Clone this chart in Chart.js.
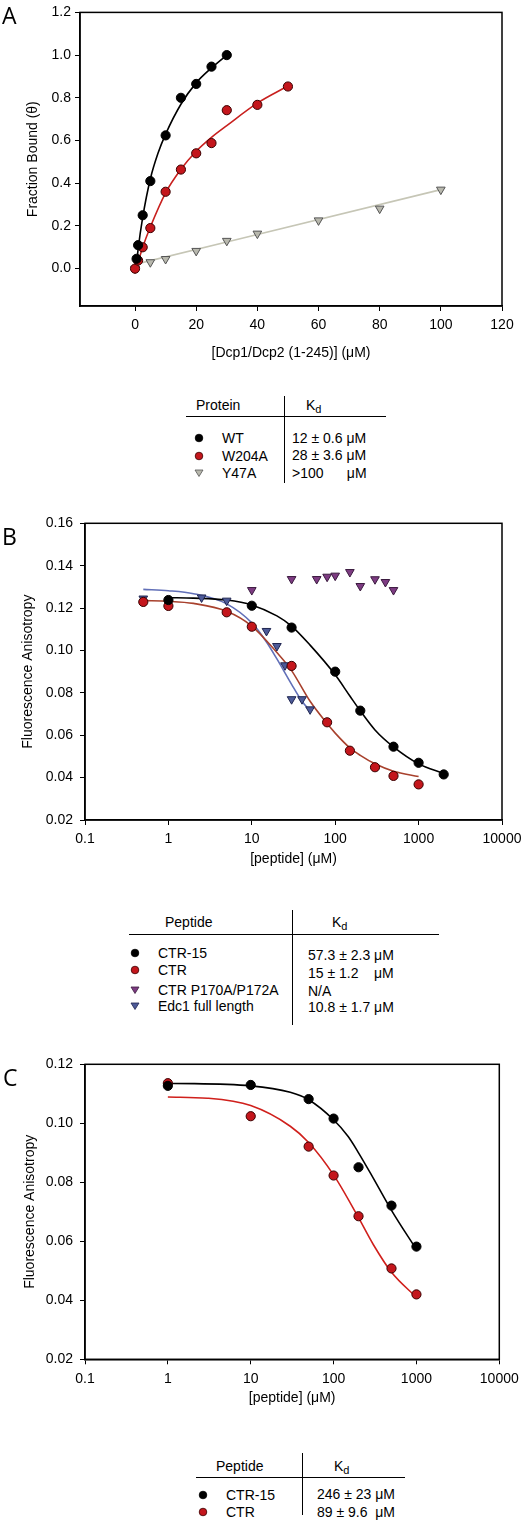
<!DOCTYPE html>
<html>
<head>
<meta charset="utf-8">
<script src="https://cdn.jsdelivr.net/npm/chart.js@4.4.0/dist/chart.umd.min.js"></script>
<style>
  html, body { margin: 0; padding: 0; background: #fff; }
  #page { position: relative; width: 531px; height: 1523px; overflow: hidden;
          font-family: "Liberation Sans", Arial, sans-serif; color: #000; }
  #page canvas { position: absolute; left: 0; }
  .t { position: absolute; height: 16px; line-height: 16px; font-size: 14px; white-space: pre; }
  .t sub { font-size: 11px; vertical-align: -3px; line-height: 0; }
  .hl { position: absolute; height: 0; border-top: 1.5px solid #000; }
  .vl { position: absolute; width: 0; border-left: 1.5px solid #000; }
  .letter { position: absolute; font-family: "Open Sans", sans-serif; font-size: 23px; line-height: 24px; }
  .mk { position: absolute; }
</style>
</head>
<body>
<div id="page">
  <canvas id="chartA" width="531" height="372" style="top:0px"></canvas>
  <canvas id="chartB" width="531" height="380" style="top:500px"></canvas>
  <canvas id="chartC" width="531" height="380" style="top:1040px"></canvas>
</div>
<script>
// ---------------------------------------------------------------
// Panel A: fraction bound vs [Dcp1/Dcp2 (1-245)]
// ---------------------------------------------------------------
const A_XTICKS = [0, 20, 40, 60, 80, 100, 120];
const A_YTICKS = [0, 0.2, 0.4, 0.6, 0.8, 1.0, 1.2];

const A_WT_X = [0.5, 1, 2.5, 5, 10, 15, 20, 25, 30];
const A_WT_Y = [0.046, 0.11, 0.25, 0.41, 0.624, 0.80, 0.865, 0.946, 1.0];
const A_W204A_X = [0, 1, 2.5, 5, 10, 15, 20, 25, 30, 40, 50];
const A_W204A_Y = [0, 0.038, 0.10, 0.19, 0.36, 0.464, 0.54, 0.588, 0.742, 0.767, 0.853];
const A_Y47A_X = [0, 5, 10, 20, 30, 40, 60, 80, 100];
const A_Y47A_Y = [0, 0.03, 0.045, 0.083, 0.13, 0.164, 0.226, 0.281, 0.37];

// fitted curves
const A_FIT_WT_X = [0.5, 1, 2.5, 5, 7.5, 10, 15, 20, 25, 30];
const A_FIT_WT_Y = [0.02, 0.09, 0.24, 0.42, 0.54, 0.63, 0.77, 0.87, 0.94, 1.0];
const A_FIT_W204A_X = [1, 2.5, 5, 10, 15, 20, 25, 30, 40, 50];
const A_FIT_W204A_Y = [0.03, 0.10, 0.195, 0.355, 0.465, 0.55, 0.615, 0.67, 0.775, 0.855];
const A_FIT_Y47A_X = [0, 100];
const A_FIT_Y47A_Y = [0.02, 0.37];

// ---------------------------------------------------------------
// Panel B: anisotropy vs [peptide]
// ---------------------------------------------------------------
const LOG_XTICKS = [0.1, 1, 10, 100, 1000, 10000];
const B_YTICKS = [0.02, 0.04, 0.06, 0.08, 0.10, 0.12, 0.14, 0.16];

const B_CTR15_X = [1, 10, 30, 100, 200, 500, 1000, 2000];
const B_CTR15_Y = [0.1238, 0.1211, 0.1108, 0.090, 0.0716, 0.0546, 0.047, 0.0415];
const B_CTR_X = [0.5, 1, 5, 10, 30, 80, 150, 300, 500, 1000];
const B_CTR_Y = [0.1229, 0.121, 0.118, 0.1112, 0.0927, 0.0661, 0.0527, 0.0449, 0.0408, 0.0368];
const B_PMUT_X = [10, 30, 60, 80, 100, 150, 200, 300, 400, 500];
const B_PMUT_Y = [0.1285, 0.1337, 0.1337, 0.1348, 0.1353, 0.137, 0.1304, 0.1336, 0.1323, 0.1285];
const B_EDC1_X = [0.5, 2.5, 5, 15, 20, 25, 30, 40, 50];
const B_EDC1_Y = [0.1245, 0.125, 0.1235, 0.1092, 0.1021, 0.093, 0.077, 0.077, 0.0722];

const B_FIT_CTR15_X = [1, 2, 5, 10, 20, 30, 50, 100, 150, 200, 300, 500, 1000, 2000];
const B_FIT_CTR15_Y = [0.1249, 0.1247, 0.1238, 0.1215, 0.1163, 0.1115, 0.1025, 0.0885, 0.0785, 0.0715, 0.0625, 0.0545, 0.0465, 0.042];
const B_FIT_CTR_X = [0.5, 1, 2, 5, 10, 20, 30, 50, 80, 100, 150, 200, 300, 500, 1000];
const B_FIT_CTR_Y = [0.1235, 0.1232, 0.1222, 0.1185, 0.1115, 0.099, 0.0905, 0.076, 0.0655, 0.061, 0.054, 0.0505, 0.0465, 0.043, 0.0405];
const B_FIT_EDC1_X = [0.5, 1, 2, 5, 10, 15, 20, 30, 40, 50];
const B_FIT_EDC1_Y = [0.1288, 0.1282, 0.1268, 0.122, 0.113, 0.104, 0.096, 0.084, 0.076, 0.0715];

// ---------------------------------------------------------------
// Panel C: anisotropy vs [peptide]
// ---------------------------------------------------------------
const C_YTICKS = [0.02, 0.04, 0.06, 0.08, 0.10, 0.12];

const C_CTR15_X = [1, 10, 50, 100, 200, 500, 1000];
const C_CTR15_Y = [0.1127, 0.113, 0.1082, 0.1016, 0.0851, 0.0721, 0.0582];
const C_CTR_X = [1, 10, 50, 100, 200, 500, 1000];
const C_CTR_Y = [0.1136, 0.1024, 0.0921, 0.0823, 0.0685, 0.0508, 0.042];

const C_FIT_CTR15_X = [1, 10, 30, 50, 100, 150, 200, 300, 500, 1000];
const C_FIT_CTR15_Y = [0.1136, 0.1127, 0.1105, 0.108, 0.1012, 0.0955, 0.090, 0.0815, 0.0705, 0.0572];
const C_FIT_CTR_X = [1, 3, 10, 30, 50, 100, 200, 300, 500, 1000];
const C_FIT_CTR_Y = [0.1089, 0.1085, 0.106, 0.099, 0.0935, 0.0825, 0.068, 0.059, 0.0495, 0.041];

// legend tables
const A_NAMES = ['WT', 'W204A', 'Y47A'];
const A_KD = ['12 \u00b1 0.6 \u03bcM', '28 \u00b1 3.6 \u03bcM', '>100      \u03bcM'];
const B_NAMES = ['CTR-15', 'CTR', 'CTR P170A/P172A', 'Edc1 full length'];
const B_KD = ['57.3 \u00b1 2.3 \u03bcM', '15 \u00b1 1.2    \u03bcM', 'N/A', '10.8 \u00b1 1.7 \u03bcM'];
const C_NAMES = ['CTR-15', 'CTR'];
const C_KD = ['246 \u00b1 23 \u03bcM', '89 \u00b1 9.6  \u03bcM'];

// ---------------------------------------------------------------
const FONT = "'Liberation Sans', Arial, sans-serif";
const BLACK = { fill: '#000000', edge: '#000000' };
const RED = { fill: '#c4161c', edge: '#3a0000' };
const GRAY = { fill: '#b8b8ad', edge: '#555555' };
const PURPLE = { fill: '#7d3b82', edge: '#3a1a3e' };
const BLUE = { fill: '#4d5a98', edge: '#1f2550' };

const zip = (xs, ys) => xs.map((x, i) => ({ x, y: ys[i] }));

function points(xs, ys, col, style) {
  const tri = style === 'tri';
  return {
    data: zip(xs, ys), showLine: false, order: 0,
    pointStyle: tri ? 'triangle' : 'circle', rotation: tri ? 180 : 0,
    pointRadius: tri ? 5 : 4.6, borderWidth: 1,
    backgroundColor: col.fill, borderColor: col.edge
  };
}

function curve(xs, ys, color) {
  return {
    data: zip(xs, ys), showLine: true, order: 1, pointRadius: 0,
    borderColor: color, borderWidth: 1.6, cubicInterpolationMode: 'monotone', fill: false
  };
}

const framePlugin = {
  id: 'frame',
  afterDraw(chart) {
    const { ctx, chartArea: a } = chart;
    ctx.save();
    ctx.strokeStyle = '#000';
    ctx.lineWidth = 1.5;
    ctx.strokeRect(a.left, a.top, a.right - a.left, a.bottom - a.top);
    ctx.restore();
  }
};

function axis(o) {
  return {
    type: o.type, min: o.min, max: o.max,
    afterFit: s => { if (o.width) s.width = o.width; if (o.height) s.height = o.height; },
    afterBuildTicks: s => { s.ticks = o.ticks.map(v => ({ value: v })); },
    grid: { drawOnChartArea: false, drawTicks: true, tickLength: 5, color: '#000', lineWidth: 1 },
    border: { display: true, color: '#000', width: 1.5 },
    ticks: { color: '#000', font: { family: FONT, size: 14 }, padding: o.tickPad,
             autoSkip: false, maxRotation: 0, callback: o.fmt },
    title: { display: true, text: o.title, color: '#000', font: { family: FONT, size: 14 },
             padding: o.titlePad }
  };
}

function makeChart(id, datasets, pad, xs, ys) {
  return new Chart(document.getElementById(id), {
    type: 'scatter',
    data: { datasets },
    options: {
      responsive: false, animation: false, devicePixelRatio: 1,
      layout: { padding: pad },
      plugins: { legend: { display: false }, tooltip: { enabled: false } },
      scales: { x: axis(xs), y: axis(ys) }
    },
    plugins: [framePlugin]
  });
}

makeChart('chartA', [
  points(A_WT_X, A_WT_Y, BLACK),
  points(A_W204A_X, A_W204A_Y, RED),
  points(A_Y47A_X, A_Y47A_Y, GRAY, 'tri'),
  curve(A_FIT_WT_X, A_FIT_WT_Y, '#000000'),
  curve(A_FIT_W204A_X, A_FIT_W204A_Y, '#c8201e'),
  curve(A_FIT_Y47A_X, A_FIT_Y47A_Y, '#c6c6b6')
], { top: 6, right: 29, left: 0, bottom: 0 },
  { type: 'linear', min: -18, max: 120, ticks: A_XTICKS, height: 66, tickPad: 6,
    fmt: v => String(v), title: '[Dcp1/Dcp2 (1-245)] (\u03bcM)', titlePad: { top: 0, bottom: 10.5 } },
  { type: 'linear', min: -0.175, max: 1.2, ticks: A_YTICKS, width: 80, tickPad: 4,
    fmt: v => v.toFixed(1), title: 'Fraction Bound (\u03b8)', titlePad: { top: 24.5, bottom: 0 } });

const logFmt = v => String(v);

makeChart('chartB', [
  points(B_CTR15_X, B_CTR15_Y, BLACK),
  points(B_CTR_X, B_CTR_Y, RED),
  points(B_PMUT_X, B_PMUT_Y, PURPLE, 'tri'),
  points(B_EDC1_X, B_EDC1_Y, BLUE, 'tri'),
  curve(B_FIT_CTR15_X, B_FIT_CTR15_Y, '#000000'),
  curve(B_FIT_CTR_X, B_FIT_CTR_Y, '#a8412d'),
  curve(B_FIT_EDC1_X, B_FIT_EDC1_Y, '#6270b8')
], { top: 23.3, right: 29, left: 0, bottom: 0 },
  { type: 'logarithmic', min: 0.1, max: 10000, ticks: LOG_XTICKS, height: 60, tickPad: 6,
    fmt: logFmt, title: '[peptide] (\u03bcM)', titlePad: { top: 0, bottom: 12.5 } },
  { type: 'linear', min: 0.02, max: 0.16, ticks: B_YTICKS, width: 85, tickPad: 7,
    fmt: v => v.toFixed(2), title: 'Fluorescence Anisotropy', titlePad: { top: 19.5, bottom: 0 } });

makeChart('chartC', [
  points(C_CTR15_X, C_CTR15_Y, BLACK),
  points(C_CTR_X, C_CTR_Y, RED),
  curve(C_FIT_CTR15_X, C_FIT_CTR15_Y, '#000000'),
  curve(C_FIT_CTR_X, C_FIT_CTR_Y, '#d0201c')
], { top: 24.3, right: 31.7, left: 0, bottom: 0 },
  { type: 'logarithmic', min: 0.1, max: 10000, ticks: LOG_XTICKS, height: 60.7, tickPad: 6,
    fmt: logFmt, title: '[peptide] (\u03bcM)', titlePad: { top: 0, bottom: 13.5 } },
  { type: 'linear', min: 0.02, max: 0.12, ticks: C_YTICKS, width: 85, tickPad: 7,
    fmt: v => v.toFixed(2), title: 'Fluorescence Anisotropy', titlePad: { top: 21.5, bottom: 0 } });

// ---------------------------------------------------------------
// Legend tables and panel letters (HTML text)
// ---------------------------------------------------------------
const page = document.getElementById('page');

function text(x, cy, html, cls) {
  const d = document.createElement('div');
  d.className = cls || 't';
  d.style.left = x + 'px';
  d.style.top = (cy - (cls === 'letter' ? 12 : 8)) + 'px';
  d.innerHTML = html;
  page.appendChild(d);
}
function hline(x1, x2, y) {
  const d = document.createElement('div');
  d.className = 'hl';
  Object.assign(d.style, { left: x1 + 'px', top: y + 'px', width: (x2 - x1) + 'px' });
  page.appendChild(d);
}
function vline(x, y1, y2) {
  const d = document.createElement('div');
  d.className = 'vl';
  Object.assign(d.style, { left: x + 'px', top: y1 + 'px', height: (y2 - y1) + 'px' });
  page.appendChild(d);
}
function marker(cx, cy, col, style) {
  const ns = 'http://www.w3.org/2000/svg';
  const svg = document.createElementNS(ns, 'svg');
  svg.setAttribute('width', 12); svg.setAttribute('height', 12);
  svg.setAttribute('class', 'mk');
  svg.style.left = (cx - 6) + 'px'; svg.style.top = (cy - 6) + 'px';
  let el;
  if (style === 'tri') {
    el = document.createElementNS(ns, 'polygon');
    el.setAttribute('points', '2,3 10,3 6,9.5');
  } else {
    el = document.createElementNS(ns, 'circle');
    el.setAttribute('cx', 6); el.setAttribute('cy', 6); el.setAttribute('r', 3.8);
  }
  el.setAttribute('fill', col.fill);
  el.setAttribute('stroke', col.edge);
  el.setAttribute('stroke-width', 0.8);
  svg.appendChild(el);
  page.appendChild(svg);
}

function table(t) {
  text(t.headX, t.headY, t.head);
  text(t.kdHeadX, t.headY, 'K<sub>d</sub>');
  hline(t.lineX1, t.lineX2, t.lineY);
  vline(t.vx, t.vy1, t.vy2);
  t.names.forEach((n, i) => {
    marker(t.mx, t.rowY[i], t.cols[i], t.styles[i]);
    text(t.nameX, t.rowY[i], n);
    text(t.kdX, t.kdY[i], t.kd[i]);
  });
}

table({ head: 'Protein', headX: 196, headY: 405, kdHeadX: 306, lineX1: 186, lineX2: 386, lineY: 416,
        vx: 284, vy1: 396, vy2: 483, names: A_NAMES, kd: A_KD, mx: 199, nameX: 222, kdX: 292,
        rowY: [438, 455.5, 473.3], kdY: [437.5, 455, 472.5],
        cols: [BLACK, RED, GRAY], styles: ['c', 'c', 'tri'] });

table({ head: 'Peptide', headX: 165, headY: 922, kdHeadX: 332, lineX1: 129, lineX2: 439, lineY: 934,
        vx: 292, vy1: 910, vy2: 1025, names: B_NAMES, kd: B_KD, mx: 135, nameX: 158, kdX: 308,
        rowY: [952.7, 970, 990, 1005.5], kdY: [955, 973, 990.5, 1007.3],
        cols: [BLACK, RED, PURPLE, BLUE], styles: ['c', 'c', 'tri', 'tri'] });

table({ head: 'Peptide', headX: 216, headY: 1466, kdHeadX: 334, lineX1: 196, lineX2: 405, lineY: 1477,
        vx: 302, vy1: 1453, vy2: 1515, names: C_NAMES, kd: C_KD, mx: 203, nameX: 226, kdX: 317,
        rowY: [1495, 1512], kdY: [1494, 1512],
        cols: [BLACK, RED], styles: ['c', 'c'] });

text(2, 15, 'A', 'letter');
text(2, 536, 'B', 'letter');
text(3, 1077, 'C', 'letter');
</script>
</body>
</html>
